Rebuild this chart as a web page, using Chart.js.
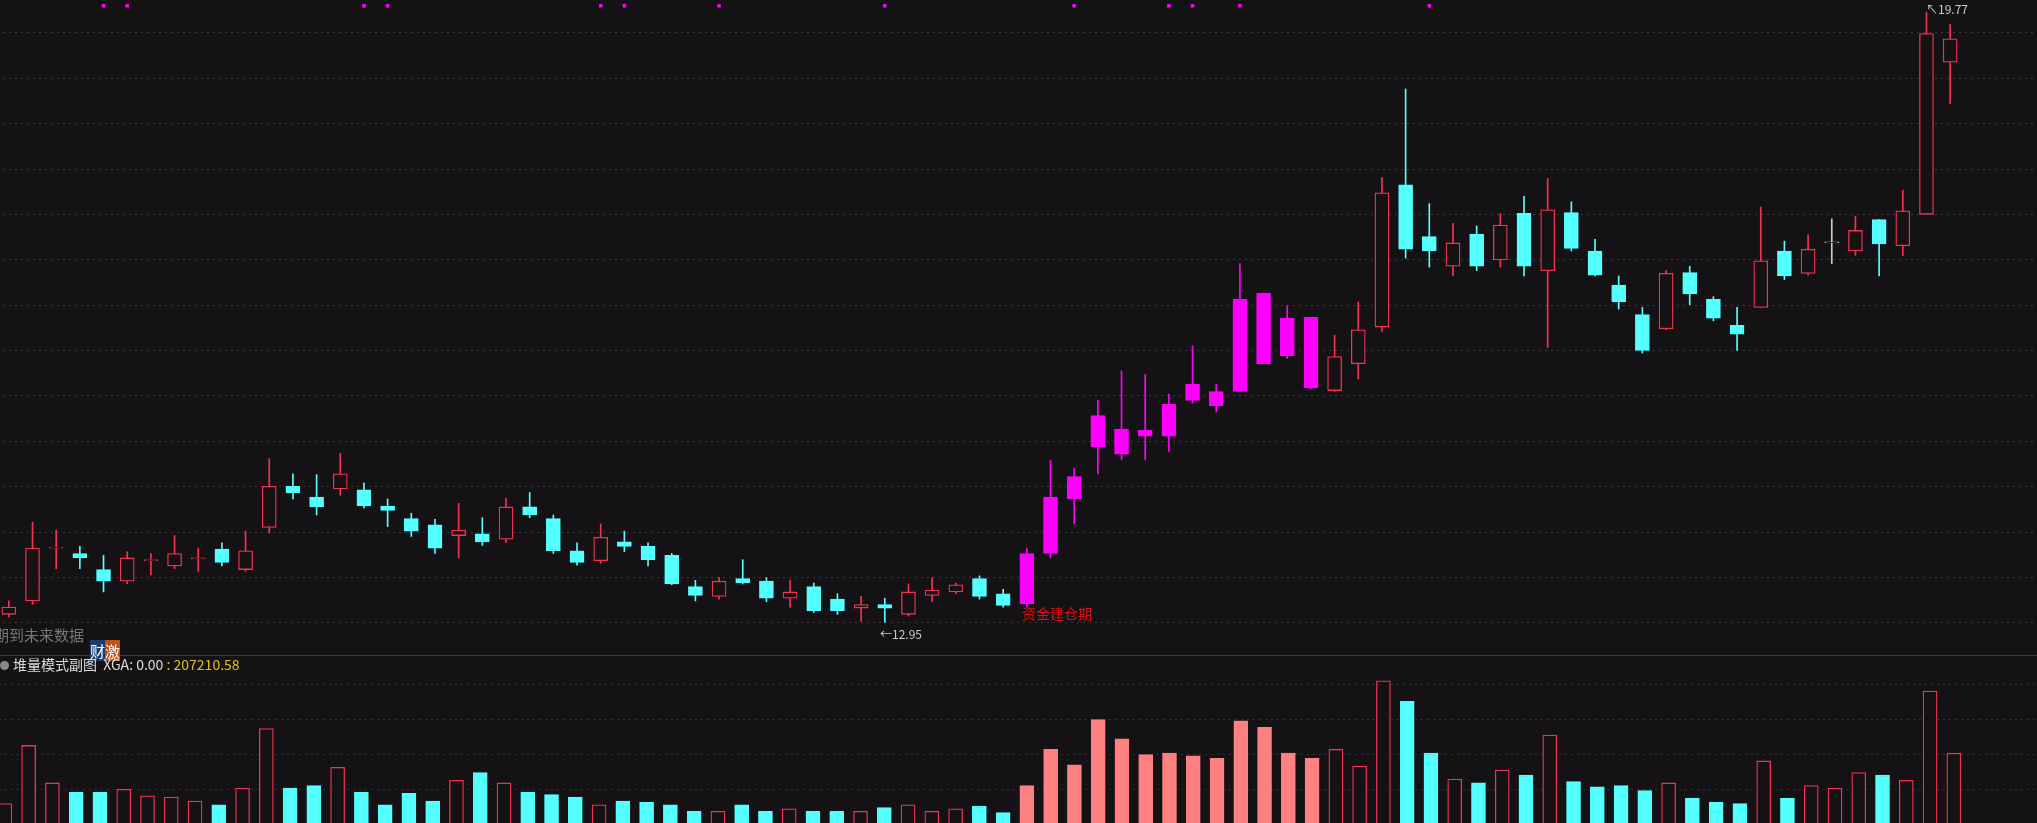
<!DOCTYPE html>
<html><head><meta charset="utf-8">
<script src="https://cdn.jsdelivr.net/npm/chart.js@4.4.1/dist/chart.umd.min.js"></script>
<style>
html,body{margin:0;padding:0;background:#141214;width:2037px;height:823px;overflow:hidden;font-family:"Noto Sans CJK SC","Noto Sans",sans-serif;}
.c{position:absolute;left:-7px;width:2044px;}
#w1{top:0;height:655px}
#w2{top:673px;height:150px}
.t{position:absolute;white-space:nowrap;font-size:14px;line-height:16px}
#sep{position:absolute;left:0;top:655px;width:2037px;height:1px;background:#3a3a3a}
</style></head><body>
<div class="c" id="w1"><canvas id="k"></canvas></div>
<div id="sep"></div>
<div class="c" id="w2"><canvas id="v"></canvas></div>
<div class="t" style="left:-6px;top:627px;color:#777;font-size:15px">期到未来数据</div>
<div class="t" style="left:90px;top:642px;color:#fff;font-size:15px;line-height:17px"><span style="background:#1d3d6e">财</span><span style="background:#c0501a">激</span></div>
<div class="t" style="left:0;top:655px;color:#ddd;font-size:14px;line-height:18px"><span style="display:inline-block;width:9px;height:9px;border-radius:5px;background:#888;margin-right:4px"></span>堆量模式副图 &nbsp;XGA: 0.00 <span style="color:#e0c020">: 207210.58</span></div>
<div class="t" style="left:1022px;top:605px;color:#e01010;font-size:14px">资金建仓期</div>
<div class="t" style="left:880px;top:626px;color:#ccc;font-size:12px">←12.95</div>
<div class="t" style="left:1926px;top:1px;color:#ccc;font-size:12px">↖19.77</div>
<script>
const openP=[13.04,13.19,13.78,13.72,13.54,13.41,13.64,13.58,13.66,13.77,13.54,14.01,14.47,14.35,14.44,14.43,14.25,14.11,14.04,13.92,13.94,13.88,14.24,14.11,13.75,13.64,13.85,13.80,13.70,13.35,13.24,13.44,13.41,13.22,13.35,13.21,13.11,13.15,13.04,13.25,13.29,13.44,13.27,13.16,13.72,14.33,14.91,14.83,15.03,15.03,15.43,15.37,15.53,15.84,15.93,15.57,15.54,15.84,16.25,17.84,17.26,16.93,17.29,17.00,17.52,16.88,17.53,17.10,16.72,16.39,16.23,16.86,16.56,16.27,16.47,17.10,16.85,17.19,17.10,17.45,17.16,17.51,19.21];
const highP=[13.19,14.07,13.98,13.80,13.70,13.74,13.72,13.92,13.78,13.84,13.97,14.78,14.61,14.60,14.84,14.51,14.33,14.17,14.10,14.28,14.12,14.34,14.40,14.15,13.84,14.05,13.97,13.84,13.72,13.42,13.45,13.65,13.45,13.42,13.39,13.27,13.24,13.22,13.38,13.45,13.39,13.47,13.32,13.78,14.76,14.67,15.43,15.76,15.72,15.50,16.04,15.61,16.96,16.63,16.49,16.36,16.16,16.53,17.92,18.91,17.63,17.41,17.38,17.52,17.71,17.91,17.65,17.23,16.82,16.47,16.88,16.93,16.59,16.47,17.59,17.21,17.28,17.46,17.49,17.45,17.78,19.77,19.63];
const lowP=[13.01,13.15,13.55,13.55,13.29,13.38,13.48,13.55,13.52,13.58,13.52,13.95,14.33,14.15,14.37,14.23,14.02,13.91,13.72,13.67,13.81,13.84,14.12,13.72,13.59,13.61,13.74,13.58,13.37,13.19,13.21,13.38,13.18,13.12,13.06,13.04,12.96,12.95,13.02,13.18,13.27,13.21,13.12,13.12,13.67,14.05,14.61,14.77,14.77,14.86,15.40,15.30,15.53,15.84,15.90,15.56,15.53,15.67,16.20,17.02,16.92,16.82,16.88,16.92,16.82,16.02,17.10,16.82,16.45,15.96,16.22,16.50,16.32,15.99,16.47,16.78,16.83,16.96,17.05,16.82,17.05,17.51,18.75];
const closeP=[13.12,13.78,13.79,13.67,13.41,13.67,13.65,13.72,13.67,13.62,13.75,14.47,14.40,14.24,14.61,14.25,14.20,13.97,13.78,13.98,13.85,14.24,14.15,13.75,13.62,13.90,13.80,13.65,13.38,13.25,13.41,13.39,13.22,13.29,13.08,13.08,13.15,13.11,13.29,13.31,13.37,13.24,13.14,13.72,14.35,14.58,15.26,15.11,15.10,15.39,15.61,15.53,16.56,16.63,16.35,16.36,15.92,16.22,17.75,17.12,17.10,17.19,16.93,17.39,16.93,17.56,17.13,16.83,16.53,15.99,16.85,16.62,16.35,16.17,16.99,16.82,17.12,17.19,17.33,17.18,17.55,19.53,19.47];
const volume=[21,66,37,30,30,32,27,26,23,20,33,79,33,35,49,30,20,29,23,39,45,37,30,28,26,20,23,22,20,15,15,20,15,17,15,15,15,18,20,15,17,19,14,35,63,51,86,71,59,60,58,56,85,80,60,56,63,50,116,100,60,40,37,47,43,74,38,34,35,31,37,25,22,21,54,25,35,33,45,43,39,108,60];
const phaseStart=43, phaseEnd=55;
const signalIdx=[4,5,15,16,25,26,30,37,45,49,50,52,60];
const slots=86;

const BG='#141214',RED='#f5334f',CY='#54ffff',MAG='#ff00ff',SAL='#ff8080',GR='#cccccc';
const labels=[...Array(slots).keys()].map(String);
function kind(i){ if(i>=phaseStart&&i<=phaseEnd) return 'mag'; if(Math.abs(closeP[i]-openP[i])<0.005) return 'doji'; return closeP[i]>openP[i]?'up':'down';}
const lineCol=i=>({mag:MAG,up:RED,down:CY,doji:(i===77?GR:RED)})[kind(i)];
const bodyFill=i=>({mag:MAG,up:BG,down:CY,doji:BG})[kind(i)];
const bodies=openP.map((o,i)=>{let c=closeP[i];if(Math.abs(c-o)<0.012)c=o+0.012;return [Math.min(o,c),Math.max(o,c)];});
const wicks=highP.map((h,i)=>[lowP[i],h]);
const sigY=signalIdx.map(i=>({x:String(i),y:19.84}));

Chart.defaults.animation=false;
new Chart(document.getElementById('k'),{
 data:{labels,datasets:[
  {type:'bar',data:wicks,grouped:false,barThickness:1,backgroundColor:openP.map((_,i)=>lineCol(i)),borderWidth:0,order:2},
  {type:'bar',data:bodies,grouped:false,barThickness:14,backgroundColor:openP.map((_,i)=>bodyFill(i)),borderColor:openP.map((_,i)=>lineCol(i)),borderWidth:1.3,borderSkipped:false,order:1},
  {type:'scatter',data:sigY,pointStyle:'rect',pointRadius:2.5,backgroundColor:MAG,borderWidth:0,order:0}
 ]},
 options:{responsive:true,maintainAspectRatio:false,layout:{padding:0},
  plugins:{legend:{display:false},tooltip:{enabled:false}},
  scales:{
   x:{type:'category',offset:true,display:false},
   y:{min:12.63,max:19.86,position:'right',
      afterBuildTicks:s=>{const t=[];for(let v=19.536;v>12.7;v-=0.507)t.push({value:v});s.ticks=t;},
      ticks:{display:false},border:{display:false,dash:[2,4]},
      grid:{color:'#3a3a3a',drawTicks:false,lineWidth:1}}
  }}
});
new Chart(document.getElementById('v'),{
 type:'bar',
 data:{labels,datasets:[{data:volume,barThickness:14,
   backgroundColor:volume.map((_,i)=>{const k=kind(i);return k==='mag'?SAL:k==='down'?CY:BG;}),
   borderColor:volume.map((_,i)=>{const k=kind(i);return k==='mag'?SAL:k==='down'?CY:RED;}),
   borderWidth:1.3,borderSkipped:'bottom'}]},
 options:{responsive:true,maintainAspectRatio:false,layout:{padding:0},
  plugins:{legend:{display:false},tooltip:{enabled:false}},
  scales:{x:{offset:true,display:false},
   y:{min:6,max:122,position:'right',afterBuildTicks:s=>{s.ticks=[{value:113},{value:86},{value:59},{value:32}];},
      ticks:{display:false},border:{display:false,dash:[2,4]},grid:{color:'#333',drawTicks:false}}}}
});
</script>
</body></html>
